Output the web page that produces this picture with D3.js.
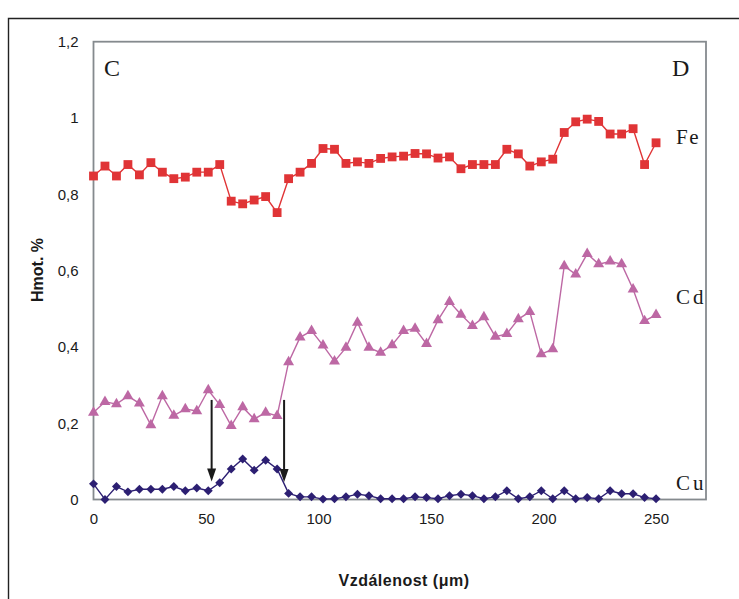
<!DOCTYPE html>
<html>
<head>
<meta charset="utf-8">
<script src="https://cdn.jsdelivr.net/npm/d3@7"></script>
<style>
  body { margin: 0; background: #fff; }
  svg { display: block; }
</style>
</head>
<body>
<svg id="chart"></svg>
<script>
// distance along the scan line (µm), 50 measurement points
const distance = [0, 5.1, 10.2, 15.3, 20.4, 25.5, 30.6, 35.7, 40.8, 45.9,
  51.0, 56.1, 61.2, 66.3, 71.4, 76.5, 81.6, 86.7, 91.8, 96.9,
  102.0, 107.1, 112.2, 117.3, 122.4, 127.6, 132.7, 137.8, 142.9, 148.0,
  153.1, 158.2, 163.3, 168.4, 173.5, 178.6, 183.7, 188.8, 193.9, 199.0,
  204.1, 209.2, 214.3, 219.4, 224.5, 229.6, 234.7, 239.8, 244.9, 250.0];

const fe = [0.848, 0.874, 0.848, 0.878, 0.851, 0.883, 0.858, 0.841, 0.845, 0.858,
  0.858, 0.878, 0.782, 0.775, 0.785, 0.794, 0.752, 0.841, 0.858, 0.881,
  0.920, 0.918, 0.881, 0.885, 0.881, 0.894, 0.898, 0.900, 0.907, 0.906,
  0.895, 0.898, 0.867, 0.878, 0.878, 0.878, 0.918, 0.906, 0.874, 0.885,
  0.892, 0.962, 0.990, 0.997, 0.991, 0.958, 0.958, 0.972, 0.878, 0.935];

const cd = [0.228, 0.256, 0.250, 0.271, 0.252, 0.195, 0.271, 0.220, 0.237, 0.232,
  0.287, 0.248, 0.193, 0.242, 0.211, 0.228, 0.219, 0.360, 0.425, 0.442,
  0.404, 0.362, 0.398, 0.464, 0.398, 0.385, 0.405, 0.442, 0.448, 0.408,
  0.470, 0.518, 0.485, 0.455, 0.478, 0.427, 0.434, 0.473, 0.492, 0.381,
  0.394, 0.612, 0.590, 0.644, 0.617, 0.624, 0.617, 0.551, 0.468, 0.484];

const cu = [0.041, 0.000, 0.034, 0.020, 0.027, 0.027, 0.027, 0.034, 0.023, 0.030,
  0.023, 0.044, 0.080, 0.106, 0.077, 0.103, 0.080, 0.016, 0.007, 0.007,
  0.001, 0.002, 0.007, 0.014, 0.010, 0.002, 0.002, 0.002, 0.007, 0.005,
  0.002, 0.010, 0.014, 0.010, 0.002, 0.007, 0.023, 0.002, 0.007, 0.023,
  0.002, 0.023, 0.002, 0.005, 0.002, 0.023, 0.015, 0.015, 0.005, 0.002];

const xTicks = [0, 50, 100, 150, 200, 250];
const yTicks = [0, 0.2, 0.4, 0.6, 0.8, 1, 1.2];

// arrows marking the Cu-rich zone: [distance, from value, to value]
const arrows = [[52.5, 0.261, 0.047], [84.7, 0.261, 0.046]];

const width = 739, height = 599;
const plotLeft = 93.5, plotRight = 706, plotTop = 41.7, plotBottom = 499.5;

const svg = d3.select('#chart')
    .attr('width', width)
    .attr('height', height)
    .style('font-family', '"Liberation Sans", Arial, sans-serif');

const x = d3.scaleLinear().domain([0, 272.2]).range([plotLeft, plotRight]);
const y = d3.scaleLinear().domain([0, 1.2]).range([plotBottom, plotTop]);

const fmt = d3.formatLocale({decimal: ',', thousands: ' ', grouping: [3], currency: ['', '']}).format('.1~f');

// outer frame
svg.append('path')
    .attr('d', `M8.5,${height + 5}V18.5H${width + 5}`)
    .attr('fill', 'none')
    .attr('stroke', '#222')
    .attr('stroke-width', 1.4);

// plot box
svg.append('rect')
    .attr('x', plotLeft).attr('y', plotTop)
    .attr('width', plotRight - plotLeft).attr('height', plotBottom - plotTop)
    .attr('fill', 'none')
    .attr('stroke', '#858a8e')
    .attr('stroke-width', 1.8);

// axes (labels only, no tick marks)
const xAxis = svg.append('g')
    .attr('transform', `translate(0,${plotBottom})`)
    .call(d3.axisBottom(x).tickValues(xTicks).tickSize(0).tickPadding(14).tickFormat(d3.format('d')));
const yAxis = svg.append('g')
    .attr('transform', `translate(${plotLeft},0)`)
    .call(d3.axisLeft(y).tickValues(yTicks).tickSize(0).tickPadding(15).tickFormat(fmt));
[xAxis, yAxis].forEach(a => {
  a.select('.domain').remove();
  a.selectAll('text')
      .attr('font-family', '"Liberation Sans", Arial, sans-serif')
      .attr('font-size', 15)
      .attr('fill', '#1a1a1a');
});

// axis titles
svg.append('text')
    .attr('x', 404).attr('y', 586)
    .attr('text-anchor', 'middle')
    .attr('font-weight', 'bold')
    .attr('font-size', 16)
    .attr('letter-spacing', 0.5)
    .attr('fill', '#1a1a1a')
    .text('Vzdálenost (μm)');

svg.append('text')
    .attr('transform', 'translate(43,270) rotate(-90)')
    .attr('text-anchor', 'middle')
    .attr('font-weight', 'bold')
    .attr('font-size', 16)
    .attr('fill', '#1a1a1a')
    .text('Hmot. %');

const series = [
  {name: 'Fe', values: fe, color: '#e03436', symbol: d3.symbolSquare, size: 78, angle: 0, label: 137, spacing: 1.5},
  {name: 'Cd', values: cd, color: '#bd68a4', symbol: d3.symbolTriangle, size: 52, angle: 0, label: 297, spacing: 3},
  {name: 'Cu', values: cu, color: '#2c1f72', symbol: d3.symbolSquare, size: 40, angle: 45, label: 483, spacing: 3}
];

const line = d3.line()
    .x(d => x(d[0]))
    .y(d => y(d[1]));

series.forEach(s => {
  const pts = distance.map((d, i) => [d, s.values[i]]);
  const g = svg.append('g');
  g.append('path')
      .datum(pts)
      .attr('d', line)
      .attr('fill', 'none')
      .attr('stroke', s.color)
      .attr('stroke-width', 1.4);
  g.selectAll('path.mark')
    .data(pts)
    .join('path')
      .attr('class', 'mark')
      .attr('transform', d => `translate(${x(d[0])},${y(d[1])}) rotate(${s.angle})`)
      .attr('d', d3.symbol().type(s.symbol).size(s.size))
      .attr('fill', s.color);
  svg.append('text')
      .attr('x', 676).attr('y', s.label)
      .attr('dy', '0.35em')
      .attr('font-family', '"Liberation Serif", "Times New Roman", serif')
      .attr('font-size', 21)
      .attr('letter-spacing', s.spacing)
      .attr('fill', '#1a1a1a')
      .text(s.name);
});

// end-point labels C and D
svg.append('text')
    .attr('x', 104).attr('y', 76)
    .attr('font-family', '"Liberation Serif", "Times New Roman", serif')
    .attr('font-size', 24)
    .attr('fill', '#1a1a1a')
    .text('C');
svg.append('text')
    .attr('x', 672).attr('y', 76)
    .attr('font-family', '"Liberation Serif", "Times New Roman", serif')
    .attr('font-size', 24)
    .attr('fill', '#1a1a1a')
    .text('D');

// arrows
arrows.forEach(([d, v0, v1]) => {
  const ax = x(d), y0 = y(v0), y1 = y(v1);
  svg.append('line')
      .attr('x1', ax).attr('x2', ax)
      .attr('y1', y0).attr('y2', y1 - 10)
      .attr('stroke', '#1a1a1a')
      .attr('stroke-width', 2);
  svg.append('path')
      .attr('d', `M${ax - 4.5},${y1 - 13}L${ax + 4.5},${y1 - 13}L${ax},${y1}Z`)
      .attr('fill', '#1a1a1a');
});
</script>
</body>
</html>
